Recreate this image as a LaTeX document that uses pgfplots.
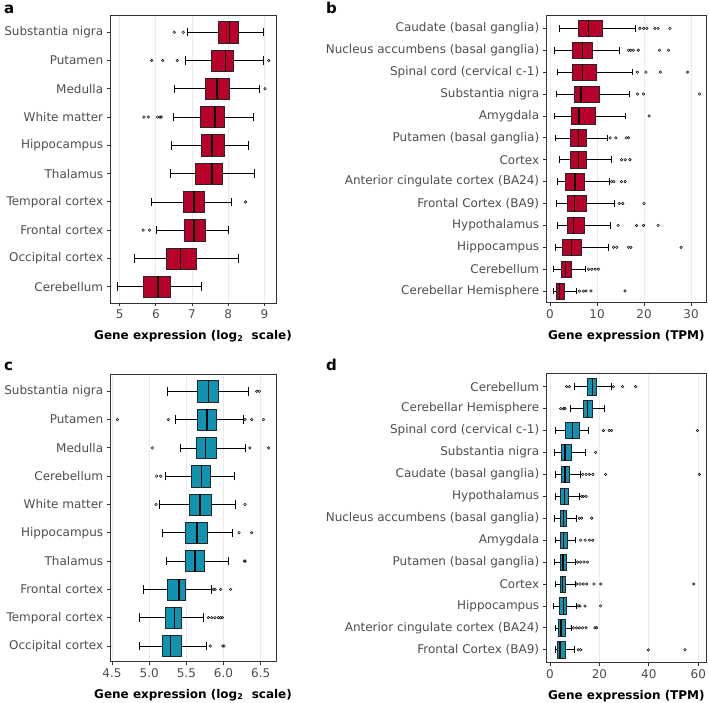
\documentclass[border=0pt]{standalone}
\usepackage{fontspec}
\setmainfont{DejaVu Sans}
\usepackage{pgfplots}
\pgfplotsset{compat=1.18}
\usepgfplotslibrary{statistics}
\definecolor{myred}{RGB}{183,0,42}
\definecolor{myteal}{RGB}{16,146,176}
\definecolor{grid92}{RGB}{235,235,235}
\definecolor{g30}{RGB}{77,77,77}
\definecolor{g20}{RGB}{51,51,51}
\pgfplotsset{
  panel/.style={
    scale only axis,
    axis line style={g20, line width=0.8pt},
    tick align=outside,
    major tick length=3.3pt,
    tick style={g20, line width=0.8pt},
    tick pos=left,
    xmajorgrids,
    grid style={grid92, line width=0.8pt},
    ticklabel style={font=\fontsize{12}{14}\selectfont, text=g30},
    xlabel style={font=\bfseries\fontsize{12}{14}\selectfont, at={(axis description cs:0.5,0)}, anchor=base, yshift=-36.4pt},
    /pgf/number format/assume math mode=true,
    boxplot/draw direction=x,
    boxplot/box extend=0.75,
    boxplot/whisker extend=0.3,
  },
  outl/.style={only marks, mark=*, mark size=1.35pt, mark options={draw=none, fill=black!70, fill opacity=0.3}},
  rbox/.style={draw=black, solid, line width=0.6pt,
    boxplot/every box/.style={draw=black!85, fill=myred, line width=0.5pt},
    boxplot/every median/.style={draw=black, line width=1.6pt},
    boxplot/every whisker/.style={draw=black, line width=0.6pt}},
  tbox/.style={draw=black, solid, line width=0.6pt,
    boxplot/every box/.style={draw=black!85, fill=myteal, line width=0.5pt},
    boxplot/every median/.style={draw=black, line width=1.6pt},
    boxplot/every whisker/.style={draw=black, line width=0.6pt}},
}
\newcommand{\bx}[7]{\addplot[#1, boxplot prepared={lower whisker=#2, lower quartile=#3, median=#4, upper quartile=#5, upper whisker=#6, draw position=#7}] coordinates {};}
\begin{document}
\begin{tikzpicture}
% ---------------- panel a
\begin{axis}[panel, at={(110pt,-15pt)}, anchor=north west, width=166pt, height=288pt,
  xmin=4.733, xmax=9.323, ymin=0.424, ymax=10.61,
  xtick={5,6,7,8,9}, ytick={1,...,10},
  yticklabels={Cerebellum, Occipital cortex, Frontal cortex, Temporal cortex, Thalamus, Hippocampus, White matter, Medulla, Putamen, Substantia nigra},
  xlabel={Gene expression (log\textsubscript{2}\ \ scale)}]
\bx{rbox}{6.86}{7.73}{8.04}{8.29}{8.97}{10}
\bx{rbox}{6.82}{7.54}{7.93}{8.15}{8.97}{9}
\bx{rbox}{6.52}{7.38}{7.69}{8.03}{8.86}{8}
\bx{rbox}{6.47}{7.22}{7.63}{7.89}{8.70}{7}
\bx{rbox}{6.43}{7.26}{7.56}{7.89}{8.55}{6}
\bx{rbox}{6.40}{7.09}{7.55}{7.85}{8.71}{5}
\bx{rbox}{5.88}{6.76}{7.06}{7.34}{8.10}{4}
\bx{rbox}{6.02}{6.78}{7.06}{7.38}{8.00}{3}
\bx{rbox}{5.40}{6.29}{6.68}{7.13}{8.29}{2}
\bx{rbox}{4.94}{5.65}{6.06}{6.40}{7.27}{1}
\addplot[outl] coordinates {
(6.51,10) (6.76,10)
(5.89,9) (6.19,9) (6.59,9) (9.12,9)
(9.02,8)
(5.67,7) (5.79,7) (6.05,7) (6.12,7) (6.15,7)
(8.48,4)
(5.65,3) (5.83,3)
};
\end{axis}
% ---------------- panel b
\begin{axis}[panel, at={(546pt,-15pt)}, anchor=north west, width=160.7pt, height=287.7pt,
  xmin=-0.85, xmax=33.34, ymin=0.47, ymax=13.61,
  xtick={0,10,20,30}, ytick={1,...,13},
  yticklabels={Cerebellar Hemisphere, Cerebellum, Hippocampus, Hypothalamus, Frontal Cortex (BA9), Anterior cingulate cortex (BA24), Cortex, Putamen (basal ganglia), Amygdala, Substantia nigra, Spinal cord (cervical c-1), Nucleus accumbens (basal ganglia), Caudate (basal ganglia)},
  xlabel={Gene expression (TPM)}]
\bx{rbox}{2.06}{6.03}{8.16}{11.13}{18.2}{13}
\bx{rbox}{0.92}{4.68}{6.88}{9.0}{14.75}{12}
\bx{rbox}{1.49}{4.82}{6.95}{9.93}{17.6}{11}
\bx{rbox}{1.35}{5.18}{6.6}{10.4}{16.9}{10}
\bx{rbox}{0.92}{4.54}{6.17}{9.65}{15.96}{9}
\bx{rbox}{1.06}{4.4}{6.1}{7.66}{12.27}{8}
\bx{rbox}{1.99}{4.26}{6.03}{7.8}{13.1}{7}
\bx{rbox}{1.49}{3.33}{5.32}{7.23}{12.6}{6}
\bx{rbox}{1.28}{3.62}{5.18}{7.73}{13.6}{5}
\bx{rbox}{1.56}{3.62}{4.96}{7.3}{12.9}{4}
\bx{rbox}{1.06}{2.62}{4.54}{6.74}{12.4}{3}
\bx{rbox}{0.78}{2.34}{3.33}{4.54}{7.6}{2}
\bx{rbox}{0.64}{1.35}{2.06}{3.05}{5.53}{1}
\addplot[outl] coordinates {
(19.1,13) (19.9,13) (20.6,13) (22.3,13) (23.0,13) (25.5,13)
(16.7,12) (17.2,12) (17.7,12) (18.8,12) (23.3,12) (25.2,12)
(18.6,11) (20.4,11) (23.5,11) (29.3,11)
(18.6,10) (19.9,10) (31.8,10)
(21.1,9)
(12.8,8) (14.0,8) (16.2,8) (16.7,8)
(15.2,7) (16.0,7) (17.0,7)
(13.1,6) (13.6,6) (15.2,6) (16.0,6)
(14.75,5) (15.5,5) (20.0,5)
(14.5,4) (18.4,4) (19.9,4) (23.0,4)
(13.5,3) (14.2,3) (16.7,3) (17.2,3) (27.9,3)
(8.2,2) (8.9,2) (9.6,2) (10.3,2)
(6.24,1) (7.09,1) (7.66,1) (8.72,1) (15.96,1)
};
\end{axis}
% ---------------- panel c
\begin{axis}[panel, at={(110pt,-374pt)}, anchor=north west, width=166pt, height=287.7pt,
  xmin=4.473, xmax=6.706, ymin=0.445, ymax=10.61,
  xtick={4.5,5,5.5,6,6.5}, ytick={1,...,10},
  xticklabel style={/pgf/number format/.cd, fixed, fixed zerofill, precision=1},
  yticklabels={Occipital cortex, Temporal cortex, Frontal cortex, Thalamus, Hippocampus, White matter, Cerebellum, Medulla, Putamen, Substantia nigra},
  xlabel={Gene expression (log\textsubscript{2}\ \ scale)}]
\bx{tbox}{5.244}{5.652}{5.80}{5.93}{6.34}{10}
\bx{tbox}{5.352}{5.652}{5.778}{5.904}{6.267}{9}
\bx{tbox}{5.415}{5.630}{5.756}{5.908}{6.294}{8}
\bx{tbox}{5.217}{5.563}{5.706}{5.823}{6.150}{7}
\bx{tbox}{5.132}{5.540}{5.684}{5.836}{6.159}{6}
\bx{tbox}{5.182}{5.491}{5.644}{5.778}{6.114}{5}
\bx{tbox}{5.226}{5.491}{5.62}{5.747}{6.07}{4}
\bx{tbox}{4.922}{5.249}{5.401}{5.482}{5.841}{3}
\bx{tbox}{4.863}{5.213}{5.343}{5.437}{5.729}{2}
\bx{tbox}{4.863}{5.177}{5.285}{5.428}{5.765}{1}
\addplot[outl] coordinates {
(6.446,10) (6.48,10)
(4.572,9) (5.258,9) (6.289,9) (6.379,9) (6.536,9)
(5.043,8) (6.356,8) (6.608,8)
(5.10,7) (5.155,7)
(5.092,6) (6.289,6)
(6.208,5) (6.379,5)
(6.28,4) (6.29,4)
(5.863,3) (5.886,3) (5.962,3) (6.096,3)
(5.796,2) (5.841,2) (5.886,2) (5.931,2) (5.96,2) (5.984,2)
(5.823,1) (5.989,1) (6.007,1)
};
\end{axis}
% ---------------- panel d
\begin{axis}[panel, at={(546pt,-373.3pt)}, anchor=north west, width=160.7pt, height=289.4pt,
  xmin=-1.62, xmax=63.4, ymin=0.41, ymax=13.61,
  xtick={0,20,40,60}, ytick={1,...,13},
  yticklabels={Frontal Cortex (BA9), Anterior cingulate cortex (BA24), Hippocampus, Cortex, Putamen (basal ganglia), Amygdala, Nucleus accumbens (basal ganglia), Hypothalamus, Caudate (basal ganglia), Substantia nigra, Spinal cord (cervical c-1), Cerebellar Hemisphere, Cerebellum},
  xlabel={Gene expression (TPM)}]
\bx{tbox}{9.84}{15.24}{17.12}{18.88}{24.67}{13}
\bx{tbox}{8.09}{13.35}{15.24}{17.26}{21.84}{12}
\bx{tbox}{2.29}{6.34}{9.17}{11.86}{15.37}{11}
\bx{tbox}{1.75}{4.72}{6.07}{8.76}{14.29}{10}
\bx{tbox}{2.02}{4.45}{6.07}{7.69}{12.13}{9}
\bx{tbox}{2.02}{4.31}{5.80}{7.42}{11.86}{8}
\bx{tbox}{1.62}{4.04}{5.39}{6.74}{10.79}{7}
\bx{tbox}{2.02}{4.04}{5.53}{7.01}{10.38}{6}
\bx{tbox}{1.62}{4.04}{5.26}{6.61}{10.11}{5}
\bx{tbox}{2.02}{4.04}{4.99}{6.34}{10.11}{4}
\bx{tbox}{1.35}{3.78}{5.39}{6.74}{10.52}{3}
\bx{tbox}{2.02}{3.37}{4.45}{6.07}{8.49}{2}
\bx{tbox}{2.02}{3.10}{4.04}{6.07}{9.71}{1}
\addplot[outl] coordinates {
(6.74,13) (7.82,13) (25.6,13) (29.4,13) (34.65,13)
(4.31,12) (5.39,12) (6.07,12)
(21.6,11) (24.0,11) (24.9,11) (59.7,11)
(18.47,10)
(13.2,9) (14.6,9) (15.9,9) (17.3,9) (22.5,9) (60.4,9)
(12.8,8) (13.5,8) (14.6,8)
(11.86,7) (12.8,7) (16.85,7)
(12.4,6) (14.2,6) (15.9,6) (17.3,6)
(11.19,5) (12.4,5) (13.75,5) (15.1,5)
(10.79,4) (12.13,4) (13.48,4) (14.83,4) (17.8,4) (20.5,4) (58.2,4)
(11.46,3) (12.13,3) (14.16,3) (20.5,3)
(9.44,2) (10.79,2) (11.86,2) (13.2,2) (14.56,2) (18.2,2) (18.9,2)
(11.46,1) (12.4,1) (39.8,1) (54.6,1)
};
\end{axis}
% panel letters
\node[anchor=base west, inner sep=0, font=\bfseries\fontsize{15}{15}\selectfont] at (4pt,-13.5pt) {a};
\node[anchor=base west, inner sep=0, font=\bfseries\fontsize{15}{15}\selectfont] at (326pt,-13.5pt) {b};
\node[anchor=base west, inner sep=0, font=\bfseries\fontsize{15}{15}\selectfont] at (4pt,-370.7pt) {c};
\node[anchor=base west, inner sep=0, font=\bfseries\fontsize{15}{15}\selectfont] at (326pt,-370.7pt) {d};
\pgfresetboundingbox
\path[use as bounding box] (0pt,0pt) rectangle (709pt,-703pt);
\end{tikzpicture}
\end{document}
